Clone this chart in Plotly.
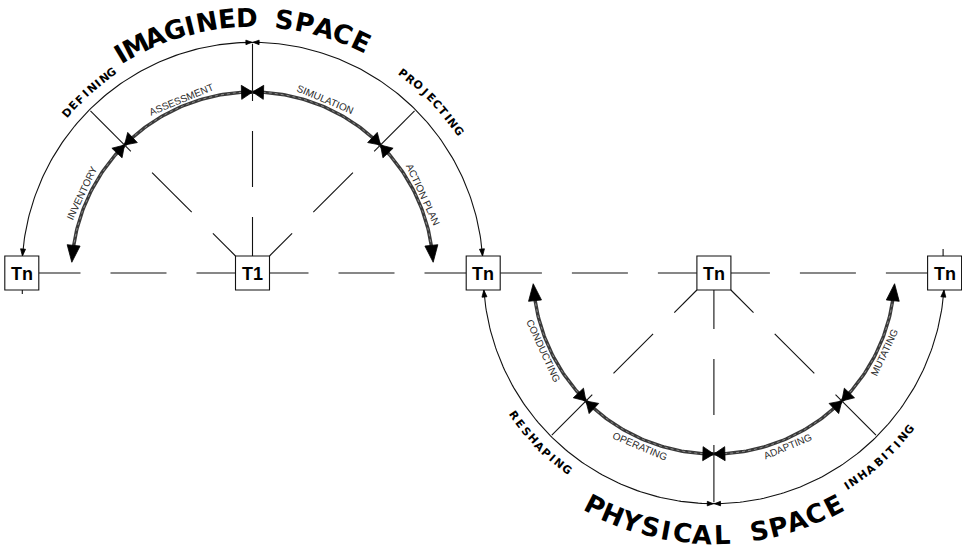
import numpy as np
import plotly.graph_objects as go

# ---------------- data ----------------
node_labels = ["Tn", "T1", "Tn", "Tn", "Tn"]
space_titles = ["IMAGINED SPACE", "PHYSICAL SPACE"]
outer_phases = [["DEFINING", "PROJECTING"], ["RESHAPING", "INHABITING"]]
inner_steps = [["INVENTORY", "ASSESSMENT", "SIMULATION", "ACTION PLAN"],
               ["CONDUCTING", "OPERATING", "ADAPTING", "MUTATING"]]
milestone_deg = [45, 90, 135]
radial_deg = [0, 45, 90, 135, 180]

# ---------------- geometry / style ----------------
W, H = 962, 554
R_OUT = 230.7
R_IN = 181.0
X0, Y0 = 21.8, 273.0
BOX = 17
node_x = X0 + R_OUT * np.arange(len(node_labels))
# (center x, center y, side: -1 = upper half, +1 = lower half)
centers = [(node_x[1], Y0, -1), (node_x[3], Y0, 1)]

title_span = [(121.0, 64.8, 255), (117.0, 62.8, 262)]
phase_span = [[(139.1, 125.1, 244.6), (53.0, 34.7, 250)],
              [(144.5, 126.8, 246), (58.1, 38.7, 251)]]
step_theta = [[154.8, 112.3, 67.2, 24.8], [155.5, 113.0, 67.0, 25.0]]
STEP_R = 188
CHAR_W = {"I": 0.45, "M": 1.1, " ": 0.8}
TRACK = 0.7

fig = go.Figure()


def pol(cx, cy, s, r, th):
    t = np.radians(th)
    return cx + r * np.cos(t), cy + s * r * np.sin(t)


thin_x, thin_y = [], []
thick_x, thick_y = [], []
tri_x, tri_y = [], []


def add_seg(xs, ys, p, q):
    xs += [p[0], q[0], None]
    ys += [p[1], q[1], None]


def add_arc(xs, ys, cx, cy, s, r, a0, a1):
    th = np.linspace(a0, a1, 200)
    x, y = pol(cx, cy, s, r, th)
    xs += list(x) + [None]
    ys += list(y) + [None]


def add_tri(tip, base, w):
    tip = np.array(tip); base = np.array(base)
    d = tip - base
    d = d / np.linalg.norm(d)
    n = np.array([-d[1], d[0]])
    a = base + n * w / 2
    b = base - n * w / 2
    tri_x.extend([tip[0], a[0], b[0], tip[0], None])
    tri_y.extend([tip[1], a[1], b[1], tip[1], None])


def arc_arrow(cx, cy, s, r, th_tip, length, w, toward):
    dth = np.degrees(length / r) * (1 if toward > th_tip else -1)
    add_tri(pol(cx, cy, s, r, th_tip), pol(cx, cy, s, r, th_tip + dth), w)


def bowtie(cx, cy, s, r, th, L=11, h=7):
    p = np.array(pol(cx, cy, s, r, th))
    dth = np.degrees(L / r)
    a = np.array(pol(cx, cy, s, r, th - dth))
    b = np.array(pol(cx, cy, s, r, th + dth))
    add_tri(p, a, 2 * h)
    add_tri(p, b, 2 * h)


end_out = np.degrees(np.arcsin(BOX / R_OUT))
IN_TIP = 3.4
for (cx, cy, s) in centers:
    # dashed radial guide lines from the centre node
    for th in radial_deg:
        s0 = BOX if th % 90 == 0 else BOX * np.sqrt(2)
        e = R_OUT - BOX if th in (0, 180) else R_OUT - 1.5
        for (r0, r1) in [(s0, 56), (86, 142), (172, e)]:
            add_seg(thin_x, thin_y, pol(cx, cy, s, r0, th), pol(cx, cy, s, r1, th))
    # outer arc with arrows
    add_arc(thin_x, thin_y, cx, cy, s, R_OUT, end_out, 180 - end_out)
    arc_arrow(cx, cy, s, R_OUT, end_out, 7, 5, 90)
    arc_arrow(cx, cy, s, R_OUT, 180 - end_out, 7, 5, 90)
    arc_arrow(cx, cy, s, R_OUT, 90.15, 6, 4.5, 180)
    arc_arrow(cx, cy, s, R_OUT, 89.85, 6, 4.5, 0)
    # inner thick arc with arrows and milestones
    add_arc(thick_x, thick_y, cx, cy, s, R_IN, IN_TIP + 4.5, 180 - IN_TIP - 4.5)
    arc_arrow(cx, cy, s, R_IN, IN_TIP, 17, 13, 90)
    arc_arrow(cx, cy, s, R_IN, 180 - IN_TIP, 17, 13, 90)
    for th in milestone_deg:
        bowtie(cx, cy, s, R_IN, th)

# little stubs at the far nodes
add_seg(thin_x, thin_y, (node_x[4] - 1.5, Y0 - BOX - 7), (node_x[4] - 1.5, Y0 - BOX))
add_seg(thin_x, thin_y, (node_x[0] + 0.5, Y0 + BOX), (node_x[0] + 0.5, Y0 + BOX + 4))

fig.add_trace(go.Scatter(x=thin_x, y=thin_y, mode="lines",
                         line=dict(color="#111", width=1.1), hoverinfo="skip"))
fig.add_trace(go.Scatter(x=thick_x, y=thick_y, mode="lines",
                         line=dict(color="#3a3a3a", width=3.4), hoverinfo="skip"))
fig.add_trace(go.Scatter(x=thick_x, y=thick_y, mode="lines",
                         line=dict(color="#8a8a8a", width=1.0, dash="dot"), hoverinfo="skip"))
fig.add_trace(go.Scatter(x=tri_x, y=tri_y, mode="lines", fill="toself",
                         fillcolor="#000", line=dict(color="#000", width=0.8),
                         hoverinfo="skip"))


def arc_text(txt, cx, cy, s, r, th0, th1, size, family, color, bold=True):
    w = np.array([CHAR_W.get(ch, 1.0) for ch in txt])
    pos = np.concatenate([[0], np.cumsum((w[:-1] + w[1:]) / 2 + TRACK)])
    ths = th0 + (th1 - th0) * pos / pos[-1]
    for ch, th in zip(txt, ths):
        if ch == " ":
            continue
        x, y = pol(cx, cy, s, r, th)
        fig.add_annotation(x=x, y=y, text=("<b>%s</b>" % ch) if bold else ch,
                           textangle=s * (th - 90), showarrow=False,
                           xanchor="center", yanchor="middle",
                           font=dict(family=family, size=size, color=color))


for i, (cx, cy, s) in enumerate(centers):
    a0, a1, r = title_span[i]
    arc_text(space_titles[i], cx, cy, s, r, a0, a1, 26, "DejaVu Sans", "#000")
    for j, lab in enumerate(outer_phases[i]):
        a0, a1, r = phase_span[i][j]
        arc_text(lab, cx, cy, s, r, a0, a1, 11, "DejaVu Sans", "#000")
    for j, lab in enumerate(inner_steps[i]):
        th = step_theta[i][j]
        x, y = pol(cx, cy, s, STEP_R, th)
        fig.add_annotation(x=x, y=y, text=lab, textangle=s * (th - 90), showarrow=False,
                           xanchor="center", yanchor="middle",
                           font=dict(family="Liberation Sans", size=10, color="#2a2a2a"))

# node boxes
for nx, lab in zip(node_x, node_labels):
    fig.add_shape(type="rect", x0=nx - BOX, x1=nx + BOX, y0=Y0 - BOX, y1=Y0 + BOX,
                  line=dict(color="#111", width=1.1), fillcolor="white", layer="above")
    fig.add_annotation(x=nx, y=Y0 + 0.5, text="<b>%s</b>" % lab, showarrow=False,
                       xanchor="center", yanchor="middle",
                       font=dict(family="Liberation Sans", size=18, color="#000"))

fig.update_layout(width=W, height=H, margin=dict(l=0, r=0, t=0, b=0),
                  paper_bgcolor="white", plot_bgcolor="white", showlegend=False,
                  xaxis=dict(range=[0, W], visible=False, fixedrange=True),
                  yaxis=dict(range=[H, 0], visible=False, fixedrange=True))
fig.write_html("out.html", config={"displayModeBar": False},
               post_script="document.body.style.margin='0';document.body.style.overflow='hidden';")
